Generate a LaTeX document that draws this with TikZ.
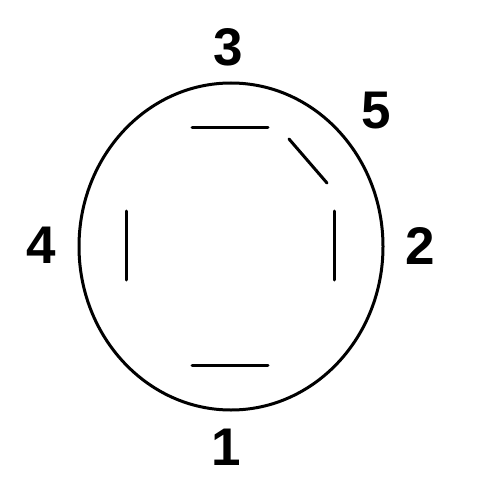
\documentclass[tikz,border=0pt]{standalone}
\usetikzlibrary{shapes.geometric}
\usepackage{fontspec}
\setmainfont{Liberation Sans}
\begin{document}
\begin{tikzpicture}[x=1pt,y=-1pt,
  lbl/.style={inner sep=0pt,font=\bfseries\fontsize{53}{53}\selectfont},
  seg/.style={line width=3pt,line cap=round},
  rim/.style={line width=3pt}]
\useasboundingbox (0,0) rectangle (500,500);
\node[rim,draw,ellipse,minimum width=304pt,minimum height=327pt,inner sep=0pt] (ring) at (231,246.5) {};
\coordinate (t1) at (192,127); \coordinate (t2) at (268,127);
\coordinate (d1) at (289,139); \coordinate (d2) at (327,183);
\coordinate (r1) at (334,211); \coordinate (r2) at (334,280);
\coordinate (l1) at (126,211); \coordinate (l2) at (126,280);
\coordinate (b1) at (192,365); \coordinate (b2) at (268,365);
\draw[seg] (t1) -- (t2);
\draw[seg] (d1) -- (d2);
\draw[seg] (r1) -- (r2);
\draw[seg] (l1) -- (l2);
\draw[seg] (b1) -- (b2);
\node[lbl] (n3) at (228,47.5) {3};
\node[lbl] (n5) at (376,110.5) {5};
\node[lbl] (n4) at (41,245) {4};
\node[lbl] (n2) at (420.5,246) {2};
\node[lbl] (n1) at (226,447) {1};
\end{tikzpicture}
\end{document}
